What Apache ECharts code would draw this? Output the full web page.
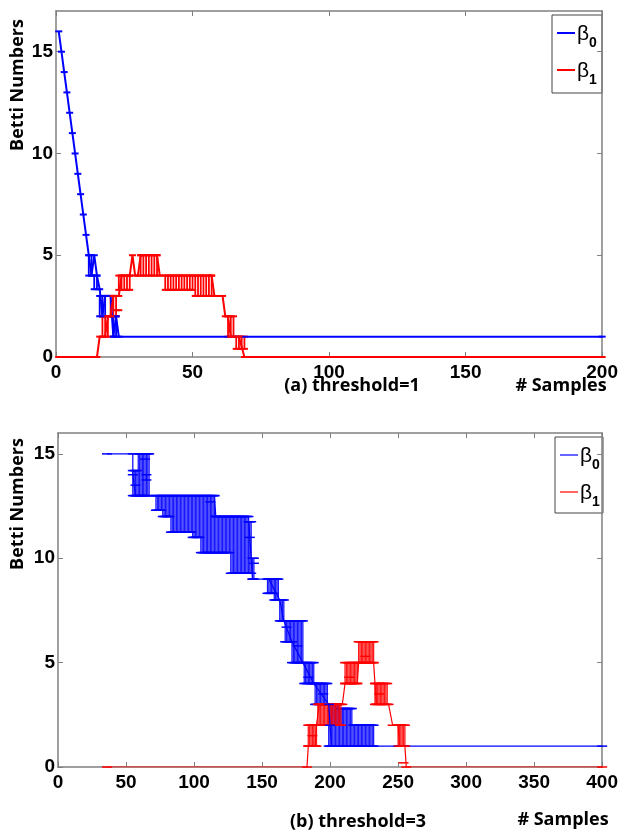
<!DOCTYPE html>
<html>
<head>
<meta charset="utf-8">
<script src="https://cdn.jsdelivr.net/npm/echarts@6/dist/echarts.min.js"></script>
<style>
html,body{margin:0;padding:0;background:#fff;}
#chart{width:621px;height:833px;}
</style>
</head>
<body>
<div id="chart"></div>
<script>
// ---------- tick labels ----------
const xTicksA = [0, 50, 100, 150, 200];
const yTicksA = [0, 5, 10, 15];
const xTicksB = [0, 50, 100, 150, 200, 250, 300, 350, 400];
const yTicksB = [0, 5, 10, 15];

// ---------- (a) threshold = 1 ----------
// trace: [sample, betti number]
const traceA0 = [[1,16],[2,15],[3,14],[4,13],[5,12],[6,11],[7,10],[8,9],[9,8],[10,7],[11,6],[12,5],
  [13,4],[14,5],[15,4],[16,3.33],[17,2],[18,3],[19,3],[20,3],[21,1],[22,2],[23,1],[200,1]];
const traceA1 = [[1,0],[15,0],[16,1],[18,1],[19,2],[20,2],[21,3],[23,3],[24,4],[27,4],[28,5],[29,4],
  [30,4],[31,5],[37,5],[38,4],[57,4],[58,3],[61,3],[62,2],[63,2],[64,1],[67,1],[69,0],[70,0],[200,0]];
// spread bars: [first sample, last sample, low, high]
const barsA0 = [[12,13,4,5],[14,15,3.33,4],[16,18,2,3],[21,22,1,2]];
const barsA1 = [[17,19,1,2],[20,22,2,3],[22,23,2.3,2.3],[23,27,3.3,4],[31,37,4,5],[40,50,3.3,4],
  [51,57,3,4],[63,65,1,2],[66,69,0.4,1]];

// ---------- (b) threshold = 3 ----------
const traceB0 = [[36,15],[55,15],[55,14],[57,13],[72,13],[115,13],[116,12],[140,12],[143,9],[155,9],
  [163,8],[166,7],[172,6],[180,5],[188,4],[199,3],[200,2],[201,1],[400,1]];
const traceB1 = [[36,0],[183,0],[184,1],[189,1],[190,2],[191,2],[192,3],[209,3],[211,4],[220,4],
  [221,5],[232,5],[233,4],[234,3],[243,3],[246,2],[250,2],[251,1],[255,1],[256,0],[400,0]];
const barsB0 = [[55,58,13,14.2],[59,67,13,15],[57,57,13.5,13.5],[64,64,14.75,14.75],[65,65,13.75,14],
  [72,76,12.3,13],[77,82,12,13],[83,98,11.25,13],[99,104,11,13],[105,115,10.27,13],[112,112,12.7,12.7],
  [116,126,10.27,12],[127,139,9.28,12],[140,142,9.28,11.75],[141,141,11,11],[143,144,9,10],[144,144,9.76,9.76],
  [154,158,8.32,9],[159,162,8,9],[163,166,7,8],[167,171,6,7],[168,168,6.7,6.7],[172,180,5,7],
  [176,176,5.8,5.8],[181,188,4,5],[184,184,4.3,4.3],[189,198,3,4],[195,195,3.5,3.5],
  [199,206,1,3],[207,216,1,2.8],[217,232,1,2]];
const barsB1 = [[184,190,1,2],[187,187,1.5,1.5],[191,208,2,3],[211,220,4,5],[214,214,4.3,4.3],
  [221,232,5,6],[226,226,5.3,5.3],[233,242,3,4],[236,236,3.5,3.5],[250,255,1,2],[254,254,0.2,0.2]];

const BLUE = '#0000ff', RED = '#ff0000', AXIS = '#808080';
const NUM_FONT = 'Liberation Sans';

function expandRuns(runs) {
  const out = [];
  runs.forEach(function (r) { for (let x = r[0]; x <= r[1]; x++) out.push([x, r[2], r[3]]); });
  return out;
}

function xAx(grid, pos, max, ticks, labels, margin) {
  return {
    type: 'value', gridIndex: grid, position: pos, min: 0, max: max,
    axisLine: { show: true, onZero: false, lineStyle: { color: AXIS, width: 1.5 } },
    axisTick: { show: true, inside: true, length: 5, customValues: ticks, lineStyle: { color: AXIS, width: 1 } },
    axisLabel: { show: labels, customValues: ticks, margin: margin, color: '#000',
      fontFamily: NUM_FONT, fontWeight: 'bold', fontSize: 19 },
    splitLine: { show: false }
  };
}
function yAx(grid, pos, max, ticks, labels) {
  return {
    type: 'value', gridIndex: grid, position: pos, min: 0, max: max,
    axisLine: { show: true, onZero: false, lineStyle: { color: AXIS, width: 1.5 } },
    axisTick: { show: true, inside: true, length: 5, customValues: ticks, lineStyle: { color: AXIS, width: 1 } },
    axisLabel: { show: labels, customValues: ticks, margin: 3, color: '#000',
      fontFamily: NUM_FONT, fontWeight: 'bold', fontSize: 19 },
    splitLine: { show: false }
  };
}
function trace(data, xi, yi, color, width, cap, opacity) {
  return {
    type: 'line', xAxisIndex: xi, yAxisIndex: yi, data: data,
    symbol: 'rect', symbolSize: cap, showSymbol: true, showAllSymbol: true,
    lineStyle: { color: color, width: width, opacity: opacity },
    itemStyle: { color: color, opacity: opacity },
    emphasis: { disabled: true }, silent: true, animation: false, clip: true
  };
}
function bars(runs, xi, yi, color, vWidth, vOpacity, capW, capH, capOpacity) {
  return {
    type: 'custom', xAxisIndex: xi, yAxisIndex: yi, data: expandRuns(runs),
    encode: { x: 0, y: [1, 2] }, silent: true, animation: false, clip: true,
    renderItem: function (params, api) {
      const x = api.value(0), lo = api.value(1), hi = api.value(2);
      const p1 = api.coord([x, lo]), p2 = api.coord([x, hi]);
      const h = capW / 2;
      const kids = [];
      if (hi > lo) {
        kids.push({ type: 'line', shape: { x1: p1[0], y1: p1[1], x2: p2[0], y2: p2[1] },
          style: { stroke: color, lineWidth: vWidth, opacity: vOpacity } });
      }
      kids.push({ type: 'line', shape: { x1: p1[0] - h, y1: p1[1], x2: p1[0] + h, y2: p1[1] },
        style: { stroke: color, lineWidth: capH, opacity: capOpacity } });
      if (hi > lo) {
        kids.push({ type: 'line', shape: { x1: p2[0] - h, y1: p2[1], x2: p2[0] + h, y2: p2[1] },
          style: { stroke: color, lineWidth: capH, opacity: capOpacity } });
      }
      return { type: 'group', children: kids };
    }
  };
}
function legendBox(x, y, w, h, y0, y1, lw) {
  const kids = [
    { type: 'rect', shape: { x: x, y: y, width: w, height: h }, style: { fill: '#fff', stroke: '#444', lineWidth: 1 } }
  ];
  [[y0, BLUE, '0'], [y1, RED, '1']].forEach(function (it) {
    kids.push({ type: 'line', shape: { x1: x + 5, y1: it[0], x2: x + 23, y2: it[0] }, style: { stroke: it[1], lineWidth: lw } });
    kids.push({ type: 'text', x: x + 25, y: it[0] + 1, style: { text: 'β', fill: '#000', font: '21px "Liberation Sans"', textVerticalAlign: 'middle' } });
    kids.push({ type: 'text', x: x + 37, y: it[0] + 10, style: { text: it[2], fill: '#000', font: 'bold 14px "Liberation Sans"', textVerticalAlign: 'middle' } });
  });
  return { type: 'group', children: kids, z: 100 };
}
function label(text, x, y, rot) {
  return { type: 'text', x: x, y: y, rotation: rot || 0,
    style: { text: text, fill: '#000', font: 'bold 18px "Open Sans"', textAlign: 'center', textVerticalAlign: 'middle' } };
}

const chart = echarts.init(document.getElementById('chart'), null, { renderer: 'canvas' });
chart.setOption({
  backgroundColor: '#fff',
  animation: false,
  grid: [
    { left: 56, top: 11, width: 548, height: 346, containLabel: false },
    { left: 58, top: 433, width: 548, height: 334, containLabel: false }
  ],
  xAxis: [
    xAx(0, 'bottom', 200, xTicksA, true, 6),
    xAx(0, 'top', 200, xTicksA, false, 6),
    xAx(1, 'bottom', 400, xTicksB, true, 6),
    xAx(1, 'top', 400, xTicksB, false, 6)
  ],
  yAxis: [
    yAx(0, 'left', 17, yTicksA, true),
    yAx(0, 'right', 17, yTicksA, false),
    yAx(1, 'left', 16, yTicksB, true),
    yAx(1, 'right', 16, yTicksB, false)
  ],
  series: [
    bars(barsA0, 0, 0, BLUE, 1.8, 1, 7, 2, 1),
    trace(traceA0, 0, 0, BLUE, 2, [7, 2], 1),
    bars(barsA1, 0, 0, RED, 1.8, 1, 7, 2, 1),
    trace(traceA1, 0, 0, RED, 2, [7, 2], 1),
    bars(barsB0, 2, 2, BLUE, 1.3, 0.9, 10, 1.5, 1),
    trace(traceB0, 2, 2, BLUE, 1.2, [10, 1.5], 1),
    bars(barsB1, 2, 2, RED, 1.3, 0.9, 10, 1.5, 1),
    trace(traceB1, 2, 2, RED, 1.2, [10, 1.5], 1)
  ],
  graphic: [
    label('Betti Numbers', 18, 85, Math.PI / 2),
    label('Betti Numbers', 18, 504, Math.PI / 2),
    label('(a) threshold=1', 352, 386),
    label('# Samples', 561, 386),
    label('(b) threshold=3', 358, 822),
    label('# Samples', 563, 820),
    legendBox(552, 15, 50, 78, 33, 70, 2),
    legendBox(555, 437, 48, 76, 455, 492, 1.2)
  ]
});
</script>
</body>
</html>
